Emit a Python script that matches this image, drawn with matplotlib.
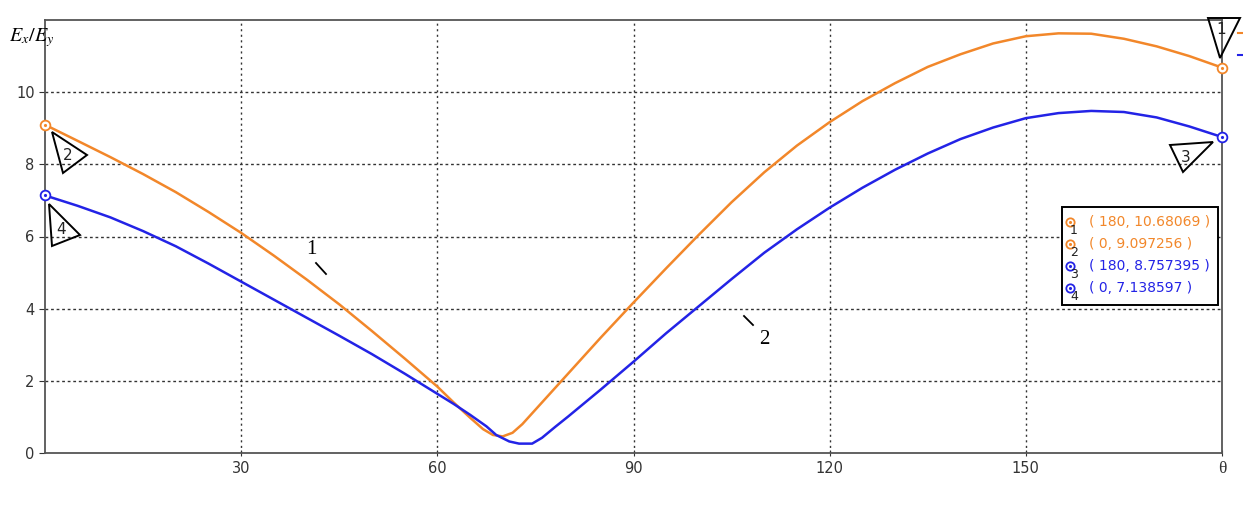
import numpy as np
import matplotlib.pyplot as plt
from matplotlib.patches import Polygon, Rectangle
from matplotlib.lines import Line2D

# curve 1 (orange) and curve 2 (blue): Ex/Ey versus theta
theta_1 = [0, 5, 10, 15, 20, 25, 30, 35, 40, 45, 50, 55, 60, 62.5, 65, 67, 68.5, 70,
           71.5, 73, 75, 80, 85, 90, 95, 100, 105, 110, 115, 120, 125, 130, 135,
           140, 145, 150, 155, 160, 165, 170, 175, 180]
ratio_1 = [9.097, 8.65, 8.20, 7.73, 7.23, 6.68, 6.10, 5.47, 4.81, 4.12, 3.38, 2.62,
           1.84, 1.40, 0.98, 0.66, 0.50, 0.46, 0.56, 0.80, 1.20, 2.20, 3.20, 4.17,
           5.12, 6.05, 6.95, 7.78, 8.52, 9.17, 9.75, 10.25, 10.70, 11.05, 11.35,
           11.55, 11.63, 11.62, 11.48, 11.27, 11.00, 10.681]

theta_2 = [0, 5, 10, 15, 20, 25, 30, 35, 40, 45, 50, 55, 57.5, 60, 62.5, 65, 67.5,
           69, 71, 72.5, 74.5, 76, 78, 80, 85, 90, 95, 100, 105, 110, 115, 120, 125,
           130, 135, 140, 145, 150, 155, 160, 165, 170, 175, 180]
ratio_2 = [7.139, 6.85, 6.53, 6.15, 5.73, 5.25, 4.75, 4.25, 3.75, 3.25, 2.74, 2.20,
           1.92, 1.64, 1.36, 1.06, 0.74, 0.50, 0.32, 0.26, 0.26, 0.42, 0.72, 1.01,
           1.76, 2.53, 3.32, 4.07, 4.82, 5.55, 6.20, 6.80, 7.35, 7.85, 8.30, 8.70,
           9.02, 9.28, 9.42, 9.48, 9.45, 9.30, 9.05, 8.757]

end_theta = [180, 0, 180, 0]
end_vals = [10.68069, 9.097256, 8.757395, 7.138597]
end_labels = ['( 180, 10.68069 )', '( 0, 9.097256 )', '( 180, 8.757395 )', '( 0, 7.138597 )']

xticks = [30, 60, 90, 120, 150, 180]
xticklabels = ['30', '60', '90', '120', '150', 'θ']
yticks = [0, 2, 4, 6, 8, 10]

orange = '#f2872a'
blue = '#2323e6'
W, H = 1243, 516


def px(x, y):
    # image pixel -> figure fraction
    return (x / W, 1 - y / H)


fig = plt.figure(figsize=(W / 100, H / 100), dpi=100)
ax = fig.add_axes([45 / W, 1 - 453 / H, 1177 / W, 433 / H])

ax.plot(theta_1, ratio_1, color=orange, lw=1.8, zorder=3)
ax.plot(theta_2, ratio_2, color=blue, lw=1.8, zorder=3)
cols = [orange, orange, blue, blue]
for t, v, c in zip(end_theta, end_vals, cols):
    ax.plot(t, v, 'o', ms=7, mfc='white', mec=c, mew=1.3, clip_on=False, zorder=5)
    ax.plot(t, v, '.', ms=2.5, color=c, clip_on=False, zorder=6)

ax.set_xlim(0, 180)
ax.set_ylim(0, 12)
ax.set_xticks(xticks)
ax.set_xticklabels(xticklabels, fontsize=10.5, color='#333333')
ax.set_yticks(yticks)
ax.tick_params(axis='y', labelsize=10.5, colors='#333333', length=4, width=0.8)
ax.tick_params(axis='x', length=4, width=0.8, direction='inout', colors='#333333')
ax.get_xticklabels()[-1].set_fontsize(12.5)
ax.get_xticklabels()[-1].set_family('Liberation Serif')
for s in ax.spines.values():
    s.set_color('#555555')
    s.set_linewidth(1.3)

for xv in xticks[:-1]:
    ax.axvline(xv, color='#333333', ls=(0, (1.5, 2.5)), lw=1.0, zorder=1)
for yv in yticks[1:]:
    ax.axhline(yv, color='#333333', ls=(0, (2, 2)), lw=1.0, zorder=1)

fig.text(*px(9, 38), r'$E_x/E_y$', fontsize=14.5, math_fontfamily='stix', va='center')

# triangle markers with numbers
tris = {
    '1': [(1208, 18), (1240, 18), (1220, 58)],
    '2': [(52, 132), (87, 155), (63, 173)],
    '3': [(1170, 145), (1213, 142), (1183, 172)],
    '4': [(49, 204), (80, 235), (52, 246)],
}
num_pos = {'1': (1221, 30), '2': (68, 155), '3': (1186, 157), '4': (61, 230)}
for k, pts in tris.items():
    poly = Polygon([px(*p) for p in pts], closed=True, fill=False, ec='black',
                   lw=1.4, transform=fig.transFigure, clip_on=False, zorder=7)
    fig.add_artist(poly)
    fig.text(*px(*num_pos[k]), k, fontsize=11, ha='center', va='center', color='#222222')

# short legend fragments at the right edge
fig.add_artist(Line2D([1238 / W, 1243 / W], [px(0, 33)[1]] * 2, color=orange, lw=1.5))
fig.add_artist(Line2D([1238 / W, 1243 / W], [px(0, 55)[1]] * 2, color=blue, lw=1.5))

# curve labels
fig.text(*px(311, 250), '1', fontsize=15, family='Liberation Serif', ha='center', va='center')
fig.add_artist(Line2D([316 / W, 326 / W], [px(0, 263)[1], px(0, 274)[1]], color='black', lw=1.3))
fig.text(*px(764, 340), '2', fontsize=15, family='Liberation Serif', ha='center', va='center')
fig.add_artist(Line2D([744 / W, 753 / W], [px(0, 316)[1], px(0, 325)[1]], color='black', lw=1.3))

# readout box
x0, y0 = px(1062, 305)
x1, y1 = px(1218, 207)
fig.add_artist(Rectangle((x0, y0), x1 - x0, y1 - y0, transform=fig.transFigure,
                         fc='white', ec='black', lw=1.4, zorder=8))
rows = [222, 244, 266, 288]
for i, (lab, c, r) in enumerate(zip(end_labels, cols, rows)):
    mx, my = px(1070, r)
    fig.add_artist(Line2D([mx], [my], marker='o', ms=6, mfc='white', mec=c, mew=1.3,
                          transform=fig.transFigure, zorder=9))
    fig.add_artist(Line2D([mx], [my], marker='.', ms=2.5, color=c,
                          transform=fig.transFigure, zorder=9))
    fig.text(*px(1089, r), lab, fontsize=10, color=c, va='center', zorder=9)
    fig.text(*px(1074, r + 9), str(i + 1), fontsize=9, color='#222222',
             ha='center', va='center', zorder=9)

fig.savefig('out.png', dpi=100)
